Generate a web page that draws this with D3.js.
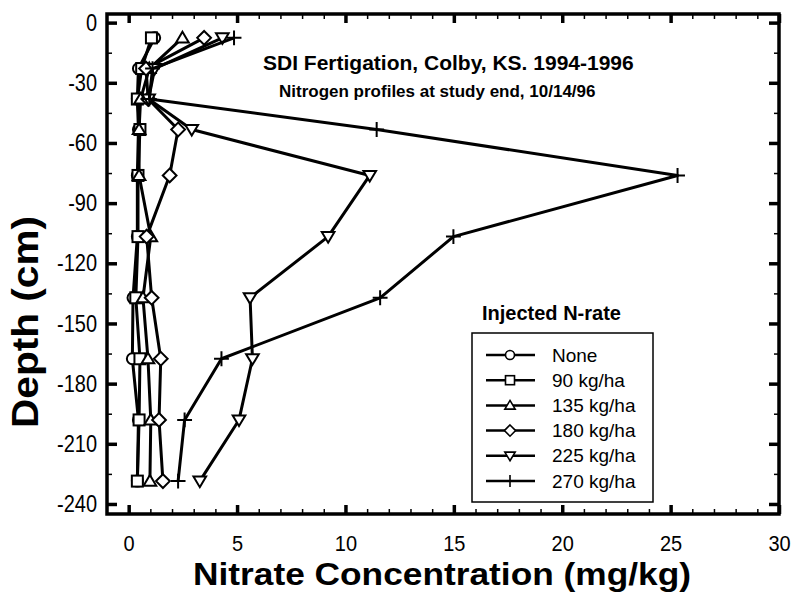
<!DOCTYPE html>
<html>
<head>
<meta charset="utf-8">
<script src="https://cdnjs.cloudflare.com/ajax/libs/d3/7.8.5/d3.min.js"></script>
<style>
  html, body { margin: 0; padding: 0; background: #fff; }
  svg { display: block; }
  text { font-family: "Liberation Sans", Arial, Helvetica, sans-serif; fill: #000; }
</style>
</head>
<body>
<svg id="chart" width="795" height="592"></svg>
<script>
// ---- Data ----
const depths = [-7.6, -22.9, -38.1, -53.3, -76.2, -106.7, -137.2, -167.6, -198.1, -228.6];
const seriesNames = ["None", "90 kg/ha", "135 kg/ha", "180 kg/ha", "225 kg/ha", "270 kg/ha"];
const seriesMarkers = ["circle", "square", "triangle", "diamond", "triangleDown", "plus"];
const nNone = [1.2, 0.45, 0.4, 0.45, 0.4, 0.4, 0.2, 0.17, 0.45, 0.4];
const n90   = [1.05, 0.6, 0.4, 0.52, 0.43, 0.43, 0.33, 0.52, 0.48, 0.4];
const n135  = [2.48, 0.95, 0.55, 0.48, 0.48, 1.02, 0.66, 0.89, 1.02, 0.98];
const n180  = [3.48, 0.8, 0.9, 2.28, 1.89, 0.83, 1.06, 1.48, 1.4, 1.58];
const n225  = [4.32, 1.2, 0.92, 2.91, 11.12, 9.2, 5.6, 5.71, 5.09, 3.28];
const n270  = [4.86, 1.1, 0.95, 11.44, 25.32, 14.98, 11.6, 4.28, 2.58, 2.28];
const seriesValues = [nNone, n90, n135, n180, n225, n270];
const xMajorTicks = [0, 5, 10, 15, 20, 25, 30];
const yMajorTicks = [0, -30, -60, -90, -120, -150, -180, -210, -240];
const titleText = "SDI Fertigation, Colby, KS. 1994-1996";
const subtitleText = "Nitrogen profiles at study end, 10/14/96";
const legendTitle = "Injected N-rate";
const xLabel = "Nitrate Concentration (mg/kg)";
const yLabel = "Depth (cm)";

// ---- Layout ----
const svg = d3.select("#chart");
const L = 107, R = 779, T = 14, B = 514;
const x = d3.scaleLinear().domain([-1, 30]).range([L, R]);
const y = d3.scaleLinear().domain([4.3, -245]).range([T, B]);

const xMinor = d3.range(0, 31, 1).filter(v => v % 5 !== 0);
const yMinor = d3.range(-15, -241, -30);
const fmt = d => String(d);

function styleAxis(g, w) {
  g.select(".domain").remove();
  g.selectAll(".tick line").attr("stroke", "#000").attr("stroke-width", w);
}
// minor ticks
svg.append("g").attr("transform", `translate(0,${B})`)
  .call(d3.axisBottom(x).tickValues(xMinor).tickSize(-5).tickFormat(""))
  .call(g => styleAxis(g, 1.5));
svg.append("g").attr("transform", `translate(0,${T})`)
  .call(d3.axisTop(x).tickValues(xMinor).tickSize(-5).tickFormat(""))
  .call(g => styleAxis(g, 1.5));
svg.append("g").attr("transform", `translate(${L},0)`)
  .call(d3.axisLeft(y).tickValues(yMinor).tickSize(-5).tickFormat(""))
  .call(g => styleAxis(g, 1.5));
svg.append("g").attr("transform", `translate(${R},0)`)
  .call(d3.axisRight(y).tickValues(yMinor).tickSize(-5).tickFormat(""))
  .call(g => styleAxis(g, 1.5));

// major ticks
const xPad = 22.8;
const xb = svg.append("g").attr("transform", `translate(0,${B})`)
  .call(d3.axisBottom(x).tickValues(xMajorTicks).tickSize(-9).tickPadding(xPad).tickFormat(fmt))
  .call(g => styleAxis(g, 3.5));
xb.selectAll(".tick text").attr("font-size", 20).attr("font-family", "Liberation Sans, Arial, sans-serif").attr("fill", "#000")
  .attr("transform", () => { const b = xPad + 14.2; return `translate(0,${b}) scale(1,1.1) translate(0,${-b})`; });
svg.append("g").attr("transform", `translate(0,${T})`)
  .call(d3.axisTop(x).tickValues(xMajorTicks).tickSize(-9).tickFormat(""))
  .call(g => styleAxis(g, 3.5));
const yl = svg.append("g").attr("transform", `translate(${L},0)`)
  .call(d3.axisLeft(y).tickValues(yMajorTicks).tickSize(-10).tickPadding(10).tickFormat(fmt))
  .call(g => styleAxis(g, 3.5));
yl.selectAll(".tick text").attr("font-size", 20).attr("font-family", "Liberation Sans, Arial, sans-serif").attr("fill", "#000")
  .attr("transform", "scale(1,1.18)");
svg.append("g").attr("transform", `translate(${R},0)`)
  .call(d3.axisRight(y).tickValues(yMajorTicks).tickSize(-10).tickFormat(""))
  .call(g => styleAxis(g, 3.5));

// frame
svg.append("rect").attr("x", L).attr("y", T).attr("width", R - L).attr("height", B - T)
  .attr("fill", "none").attr("stroke", "#000").attr("stroke-width", 3.5);

// ---- Markers ----
function drawMarker(g, type, cx, cy, s, sw) {
  if (type === "circle") {
    g.append("circle").attr("cx", cx).attr("cy", cy).attr("r", s)
      .attr("fill", "#fff").attr("stroke", "#000").attr("stroke-width", sw);
  } else if (type === "square") {
    g.append("rect").attr("x", cx - s).attr("y", cy - s).attr("width", 2 * s).attr("height", 2 * s)
      .attr("fill", "#fff").attr("stroke", "#000").attr("stroke-width", sw);
  } else if (type === "triangle") {
    const h = s * 1.1;
    g.append("path").attr("d", `M${cx},${cy - h}L${cx + s * 1.15},${cy + h * 0.75}L${cx - s * 1.15},${cy + h * 0.75}Z`)
      .attr("fill", "#fff").attr("stroke", "#000").attr("stroke-width", sw);
  } else if (type === "triangleDown") {
    const h = s * 1.1;
    g.append("path").attr("d", `M${cx},${cy + h}L${cx + s * 1.15},${cy - h * 0.75}L${cx - s * 1.15},${cy - h * 0.75}Z`)
      .attr("fill", "#fff").attr("stroke", "#000").attr("stroke-width", sw);
  } else if (type === "diamond") {
    const d = s * 1.25;
    g.append("path").attr("d", `M${cx},${cy - d}L${cx + d},${cy}L${cx},${cy + d}L${cx - d},${cy}Z`)
      .attr("fill", "#fff").attr("stroke", "#000").attr("stroke-width", sw);
  } else if (type === "plus") {
    const d = s * 1.35;
    g.append("path").attr("d", `M${cx - d},${cy}L${cx + d},${cy}M${cx},${cy - d}L${cx},${cy + d}`)
      .attr("fill", "none").attr("stroke", "#000").attr("stroke-width", sw);
  }
}

// ---- Series ----
const line = d3.line().x(d => x(d.v)).y(d => y(d.d));
const plotG = svg.append("g");
seriesValues.forEach((vals, i) => {
  const pts = vals.map((v, j) => ({ v, d: depths[j] }));
  const g = plotG.append("g");
  g.append("path").datum(pts).attr("d", line)
    .attr("fill", "none").attr("stroke", "#000").attr("stroke-width", 3).attr("stroke-linejoin", "round");
  pts.forEach(p => drawMarker(g, seriesMarkers[i], x(p.v), y(p.d), 5.5, 2));
});

// ---- Titles ----
svg.append("text").attr("x", 263).attr("y", 70).attr("font-size", 21).attr("font-weight", "bold").text(titleText);
svg.append("text").attr("x", 279).attr("y", 97).attr("font-size", 17).attr("font-weight", "bold").text(subtitleText);

svg.append("text").attr("x", 442).attr("y", 585).attr("text-anchor", "middle")
  .attr("font-size", 32).attr("font-weight", "bold")
  .attr("textLength", 498).attr("lengthAdjust", "spacingAndGlyphs").text(xLabel);
svg.append("text").attr("transform", "translate(38,322) rotate(-90)").attr("text-anchor", "middle")
  .attr("font-size", 36).attr("font-weight", "bold")
  .attr("textLength", 212).attr("lengthAdjust", "spacingAndGlyphs").text(yLabel);

// ---- Legend ----
svg.append("text").attr("x", 482).attr("y", 320).attr("font-size", 20).attr("font-weight", "bold").text(legendTitle);
svg.append("rect").attr("x", 472).attr("y", 333).attr("width", 181).attr("height", 169)
  .attr("fill", "#fff").attr("stroke", "#000").attr("stroke-width", 1.5);
const legY = d3.scalePoint().domain(seriesNames).range([355, 481]);
seriesNames.forEach((name, i) => {
  const g = svg.append("g");
  const ly = legY(name);
  g.append("line").attr("x1", 486).attr("x2", 535).attr("y1", ly).attr("y2", ly)
    .attr("stroke", "#000").attr("stroke-width", 2.5);
  drawMarker(g, seriesMarkers[i], 510, ly, 4.5, 1.6);
  g.append("text").attr("x", 552).attr("y", ly).attr("dy", "0.35em").attr("font-size", 19).text(name);
});
</script>
</body>
</html>
